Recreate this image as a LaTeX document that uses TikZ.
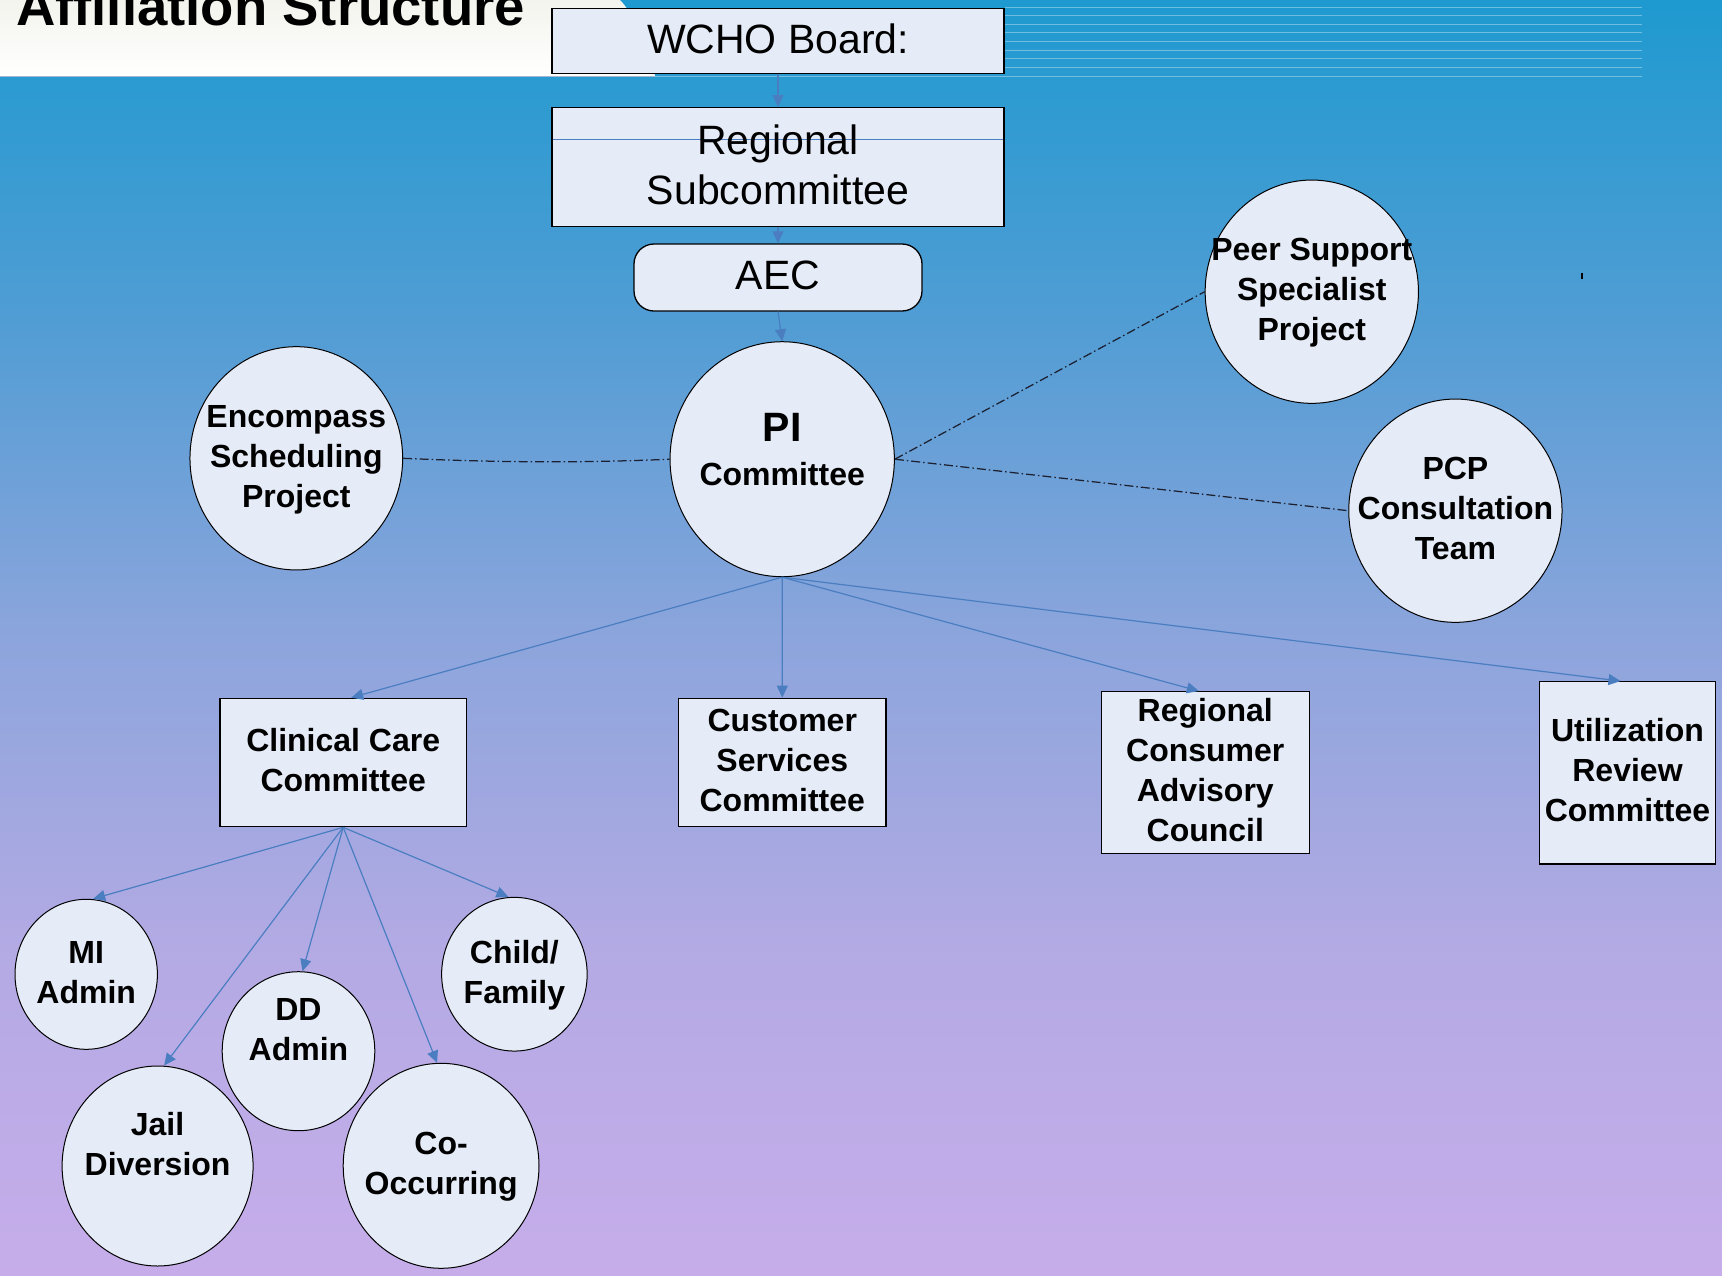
\documentclass[tikz,border=0pt]{standalone}
\usepackage{fontspec}
\setmainfont{Liberation Sans}[Ligatures=NoCommon]
\usetikzlibrary{shapes.geometric, arrows.meta, calc}

% palette
\definecolor{boxfill}{RGB}{230,236,247}
\definecolor{linkblue}{RGB}{74,126,193}
\definecolor{dashink}{RGB}{28,32,48}
\definecolor{bgA}{RGB}{198,173,234}
\definecolor{bgB}{RGB}{180,170,228}
\definecolor{bgC}{RGB}{140,165,220}
\definecolor{bgD}{RGB}{80,157,212}
\definecolor{bgE}{RGB}{30,154,208}
\definecolor{titlepaper}{RGB}{243,244,237}
\definecolor{rulegrey}{RGB}{165,182,210}

% sky-to-lavender backdrop (inner 25bp..75bp span the page)
\pgfdeclareverticalshading{skyfade}{100bp}{%
  color(0bp)=(bgA); color(25bp)=(bgA); color(37.5bp)=(bgB);
  color(50bp)=(bgC); color(62.5bp)=(bgD); color(75bp)=(bgE); color(100bp)=(bgE)}

% line struts: regular 41pt text on 50pt lines, bold 32pt text on 40pt lines
\newcommand\rgstrut{\rule[-12.8pt]{0pt}{50pt}}
\newcommand\bfstrut{\rule[-11pt]{0pt}{40pt}}

\tikzset{
  plainfont/.style={font=\fontsize{41}{50}\selectfont},
  boldfont/.style={font=\fontsize{32}{40}\selectfont\bfseries},
  boxnode/.style={draw=black, line width=1.3pt, fill=boxfill, inner sep=0pt, align=center},
  bubble/.style={ellipse, draw=black, line width=1pt, fill=boxfill, inner sep=0pt},
  bubbletext/.style={boldfont, align=center, inner sep=0pt},
  feed/.style={draw=linkblue, line width=1.2pt, -{Triangle[length=12pt,width=11pt]}},
  liaison/.style={draw=dashink, line width=1.25pt, dash pattern=on 9pt off 3pt on 1.5pt off 3pt},
  stripe/.style={draw=white, opacity=0.35, line width=1pt},
}

\begin{document}
\begin{tikzpicture}[x=1pt, y=-1pt]
\useasboundingbox (0,0) rectangle (1722,1275);
\clip (0,0) rectangle (1722,1275);

% backdrop
\shade[shading=skyfade] (0,0) rectangle (1722,1275);

% title panel and header stripes
\shade[top color=titlepaper, bottom color=white]
  (0,0) -- (620,0) .. controls (632,12) and (648,45) .. (655,76) -- (0,76) -- cycle;
\draw[rulegrey, line width=1.2pt] (0,76.5) -- (655,76.5);
\draw[stripe] (655,76.5) -- (1642,76.5);
\foreach \yy in {7,15.6,24.2,32.8,41.4,50,58.6,67.2}
  \draw[stripe] (1005,\yy) -- (1642,\yy);

\node[anchor=base west, inner sep=0pt, font=\fontsize{54.5}{60}\selectfont\bfseries]
  (title) at (16,25) {Affiliation Structure};

% top chain
\node[boxnode, plainfont, minimum width=452pt, minimum height=65pt]
  (wcho) at (778,40.8) {\rgstrut WCHO Board:};
\node[boxnode, plainfont, minimum width=452pt, minimum height=119pt,
  path picture={\draw[linkblue, line width=1pt]
    ([yshift=-31.6pt]path picture bounding box.north west) --
    ([yshift=-31.6pt]path picture bounding box.north east);}]
  (regsub) at (778,167.2) {\rgstrut Regional\\\rgstrut Subcommittee};
\node[boxnode, plainfont, rounded corners=20pt, minimum width=288pt, minimum height=67pt]
  (aec) at (778,277.5) {\rgstrut AEC};

% PI committee and its project circles
\node[bubble, minimum width=224.3pt, minimum height=235pt] (picom) at (782.2,459.2) {};
\node[bubbletext] (picom-t) at (picom)
  {{\fontsize{41}{41}\selectfont PI}\\[4.3pt]Committee\rule[-20pt]{0pt}{20pt}};

\node[bubble, minimum width=212.7pt, minimum height=223.3pt] (encomp) at (296.3,458.3) {};
\node[bubbletext] (encomp-t) at (encomp)
  {\bfstrut Encompass\\\bfstrut Scheduling\\\bfstrut Project};

\node[bubble, minimum width=213.3pt, minimum height=223.3pt] (peer) at (1311.8,291.7) {};
\node[bubbletext] (peer-t) at (peer)
  {\bfstrut Peer Support\\\bfstrut Specialist\\\bfstrut Project};

\node[bubble, minimum width=213.3pt, minimum height=223.3pt] (pcp) at (1455.4,510.7) {};
\node[bubbletext] (pcp-t) at (pcp)
  {\bfstrut PCP\\\bfstrut Consultation\\\bfstrut Team};

% committees under PI
\node[boxnode, boldfont, minimum width=246.5pt, minimum height=128.4pt]
  (clinical) at (343.2,762.5) {\bfstrut Clinical Care\\\bfstrut Committee};
\node[boxnode, boldfont, minimum width=207.4pt, minimum height=128.4pt]
  (customer) at (782.3,762.5) {\bfstrut Customer\\\bfstrut Services\\\bfstrut Committee};
\node[boxnode, boldfont, minimum width=208pt, minimum height=161.6pt]
  (rcac) at (1205.3,772.5) {\bfstrut Regional\\\bfstrut Consumer\\\bfstrut Advisory\\\bfstrut Council};
\node[boxnode, boldfont, minimum width=176pt, minimum height=182.3pt]
  (urc) at (1627.5,772.85) {\bfstrut Utilization\\\bfstrut Review\\\bfstrut Committee};

% clinical care sub-groups
\node[bubble, minimum width=142.4pt, minimum height=150pt] (miadmin) at (86.2,974.3) {};
\node[bubbletext] (miadmin-t) at (miadmin) {\bfstrut MI\\\bfstrut Admin};

\node[bubble, minimum width=145.5pt, minimum height=153.7pt] (child) at (514.4,974.2) {};
\node[bubbletext] (child-t) at (child) {\bfstrut Child/\\\bfstrut Family};

\node[bubble, minimum width=152.6pt, minimum height=159pt] (ddadmin) at (298.5,1051.2) {};
\node[bubbletext] (ddadmin-t) at (ddadmin) {\bfstrut DD\\\bfstrut Admin\\\bfstrut};

\node[bubble, minimum width=191pt, minimum height=200pt] (jail) at (157.6,1166) {};
\node[bubbletext] (jail-t) at (jail) {\bfstrut Jail\\\bfstrut Diversion\\\bfstrut};

\node[bubble, minimum width=195.8pt, minimum height=205pt] (cooccur) at (441.1,1165.8) {};
\node[bubbletext] (cooccur-t) at (cooccur) {\bfstrut Co-\\\bfstrut Occurring};

% reporting arrows
\draw[feed] (wcho.south) -- (regsub.north);
\draw[feed] (regsub.south) -- (aec.north);
\draw[feed] (aec.south) -- (picom.north);

\draw[feed] (picom.south) -- ([xshift=8pt]clinical.north);
\draw[feed] (picom.south) -- (customer.north);
\draw[feed] (picom.south) -- ([xshift=-6.5pt]rcac.north);
\draw[feed] (picom.south) -- ([xshift=-7pt]urc.north);

\draw[feed] (clinical.south) -- ([xshift=7pt]miadmin.north);
\draw[feed] (clinical.south) -- ([xshift=-6pt]child.north);
\draw[feed] (clinical.south) -- ([xshift=4pt]ddadmin.north);
\draw[feed] (clinical.south) -- ([xshift=6.5pt]jail.north);
\draw[feed] (clinical.south) -- ([xshift=-4pt]cooccur.north);

% liaison links to projects
\draw[liaison] (encomp.east) .. controls +(90,4) and +(-90,4) .. (picom.west);
\draw[liaison] (picom.east) -- (peer.west);
\draw[liaison] (picom.east) -- (pcp.west);

% small stray tick
\draw[line width=1.5pt] (1582,272.5) -- (1582,279);
\end{tikzpicture}
\end{document}
